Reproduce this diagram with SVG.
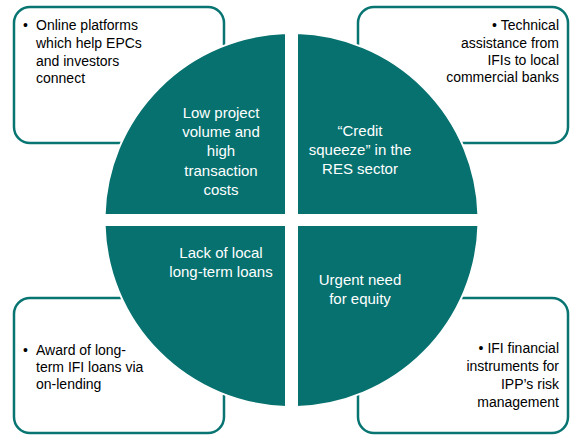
<svg xmlns="http://www.w3.org/2000/svg" width="582" height="441" viewBox="0 0 582 441">
<style>
.box{fill:#ffffff;stroke:#087572;stroke-width:2.5}
.q{fill:#06716F;stroke:#ffffff;stroke-width:2}
.qt{font-family:"Liberation Sans",Arial,sans-serif;font-size:15px;fill:#ffffff;text-anchor:middle}
.bt{font-family:"Liberation Sans",Arial,sans-serif;font-size:14px;fill:#000000}
.r{text-anchor:end}
</style>
<rect width="582" height="441" fill="#ffffff"/>
<g id="box-tl">
<rect class="box" x="14" y="7" width="210" height="136" rx="16"/>
<text class="bt"><tspan x="23" y="30">•</tspan><tspan x="36" y="30">Online platforms</tspan><tspan x="36" y="48">which help EPCs</tspan><tspan x="36" y="66">and investors</tspan><tspan x="36" y="83">connect</tspan></text>
</g>
<g id="box-tr">
<rect class="box" x="358" y="7" width="210" height="136" rx="16"/>
<text class="bt r"><tspan x="559" y="30">• Technical</tspan><tspan x="559" y="48">assistance from</tspan><tspan x="559" y="65">IFIs to local</tspan><tspan x="559" y="82">commercial banks</tspan></text>
</g>
<g id="box-bl">
<rect class="box" x="14" y="298" width="210" height="135" rx="16"/>
<text class="bt"><tspan x="23" y="355">•</tspan><tspan x="36" y="355">Award of long-</tspan><tspan x="36" y="372">term IFI loans via</tspan><tspan x="36" y="389">on-lending</tspan></text>
</g>
<g id="box-br">
<rect class="box" x="358" y="298" width="210" height="135" rx="16"/>
<text class="bt r"><tspan x="559" y="353">• IFI financial</tspan><tspan x="559" y="371">instruments for</tspan><tspan x="559" y="389">IPP’s risk</tspan><tspan x="559" y="407">management</tspan></text>
</g>
<g id="q-tl">
<path class="q" d="M286,215 V33.1 A187,187 0 0 0 104.6,215 Z"/>
<text class="qt"><tspan x="221" y="118">Low project</tspan><tspan x="221" y="137">volume and</tspan><tspan x="221" y="156">high</tspan><tspan x="221" y="176">transaction</tspan><tspan x="221" y="195">costs</tspan></text>
</g>
<g id="q-tr">
<path class="q" d="M297,215 V33.1 A187,187 0 0 1 478.4,215 Z"/>
<text class="qt"><tspan x="360" y="136">“Credit</tspan><tspan x="360" y="155">squeeze” in the</tspan><tspan x="360" y="174">RES sector</tspan></text>
</g>
<g id="q-bl">
<path class="q" d="M286,225 V406.9 A187,187 0 0 1 104.6,225 Z"/>
<text class="qt"><tspan x="221" y="258">Lack of local</tspan><tspan x="221" y="277">long-term loans</tspan></text>
</g>
<g id="q-br">
<path class="q" d="M297,225 V406.9 A187,187 0 0 0 478.4,225 Z"/>
<text class="qt"><tspan x="360" y="285">Urgent need</tspan><tspan x="360" y="304">for equity</tspan></text>
</g>
</svg>
